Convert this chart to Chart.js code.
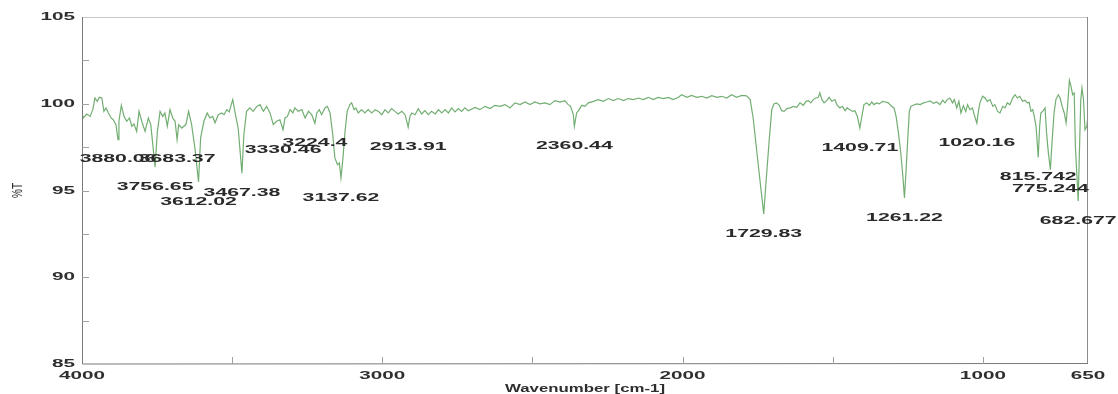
<!DOCTYPE html>
<html>
<head>
<meta charset="utf-8">
<title>IR spectrum</title>
<script src="https://cdn.jsdelivr.net/npm/chart.js@4/dist/chart.umd.min.js"></script>
<style>
  html, body { margin: 0; padding: 0; background: #ffffff; }
  #wrap { width: 1118px; height: 394px; position: relative; }
</style>
</head>
<body>
<div id="wrap"><canvas id="ir"></canvas></div>
<script>
// Wavenumber (cm-1) and transmittance (%T) of the recorded spectrum
const wavenumbers = [
  4000, 3996, 3984, 3973, 3964, 3957, 3949, 3942, 3934, 3927, 3920, 3912, 3903, 3896, 3887,
  3880.06, 3877, 3869, 3860, 3851, 3842, 3834, 3827, 3818, 3810, 3801, 3790, 3779, 3771,
  3756.65, 3749, 3740, 3731, 3724, 3716, 3707, 3698, 3690, 3683.37, 3678, 3668, 3654, 3645,
  3635, 3624, 3612.02, 3605, 3594, 3583, 3574, 3565, 3557, 3546, 3535, 3527, 3518, 3510,
  3498, 3491, 3480, 3467.38, 3461, 3452, 3441, 3430, 3418, 3407, 3396, 3385, 3374, 3363,
  3352, 3341, 3330.46, 3324, 3316, 3307, 3298, 3291, 3280, 3268, 3257, 3246, 3235, 3224.4,
  3218, 3210, 3202, 3191, 3183, 3174, 3165, 3158, 3149, 3143, 3137.62, 3132, 3124, 3117,
  3108, 3102, 3094, 3088, 3080, 3069, 3058, 3047, 3035, 3024, 3013, 3002, 2991, 2980, 2969,
  2958, 2947, 2935, 2924, 2913.91, 2908, 2902, 2891, 2880, 2869, 2858, 2847, 2836, 2824,
  2813, 2802, 2791, 2780, 2769, 2758, 2747, 2736, 2725, 2714, 2691, 2675, 2658, 2641, 2625,
  2608, 2591, 2575, 2558, 2541, 2525, 2508, 2492, 2475, 2458, 2442, 2425, 2408, 2392, 2381,
  2373, 2364, 2360.44, 2353, 2344, 2336, 2325, 2314, 2297, 2281, 2264, 2247, 2231, 2214,
  2197, 2181, 2164, 2147, 2131, 2114, 2098, 2081, 2064, 2048, 2031, 2014, 2003, 1986, 1970,
  1953, 1936, 1920, 1903, 1886, 1870, 1853, 1837, 1820, 1803, 1787, 1775, 1765, 1753, 1742,
  1729.83, 1722, 1711, 1703, 1696, 1687, 1678, 1670, 1662, 1653, 1642, 1631, 1620, 1609,
  1598, 1589, 1581, 1573, 1565, 1556, 1548, 1543, 1536, 1529, 1520, 1512, 1503, 1493, 1485,
  1476, 1468, 1459, 1452, 1443, 1434, 1426, 1418, 1409.71, 1404, 1396, 1387, 1378, 1370,
  1363, 1354, 1345, 1334, 1325, 1315, 1304, 1296, 1289, 1282, 1274, 1267, 1261.22, 1256,
  1250, 1245, 1240, 1232, 1220, 1209, 1198, 1187, 1176, 1165, 1154, 1143, 1134, 1126, 1119,
  1110, 1101, 1095, 1087, 1080, 1073, 1065, 1057, 1051, 1043, 1035, 1029, 1020.16, 1015,
  1010, 1001, 993, 985, 976, 967, 960, 951, 943, 934, 926, 919, 910, 901, 893, 885, 877,
  868, 860, 852, 846, 840, 834, 829, 823, 815.742, 811, 807, 801, 793, 788, 782, 775.244,
  770, 763, 757, 749, 743, 736, 729, 723, 718, 712, 708, 701, 696, 692, 682.677, 679, 674,
  670, 665, 660, 654, 650
];
const transmittance = [
  99.47, 99.18, 99.41, 99.27, 99.66, 100.33, 100.14, 100.37, 100.33, 99.56, 99.76, 99.47, 99.18, 99.08, 98.80,
  97.93, 98.99, 99.91, 99.27, 98.99, 99.18, 98.70, 98.84, 98.41, 99.56, 98.99, 98.41, 99.18, 98.80,
  96.35, 98.41, 99.56, 99.27, 99.47, 98.70, 99.66, 99.18, 98.99, 97.93, 98.80, 98.60, 98.80, 99.56,
  98.80, 97.45, 95.50, 98.03, 98.99, 99.47, 99.18, 99.27, 98.90, 99.37, 99.47, 99.37, 99.66, 99.53,
  100.24, 99.56, 98.60, 96.00, 98.22, 99.56, 99.76, 99.56, 99.85, 99.95, 99.56, 99.85, 99.47, 98.80,
  98.99, 99.08, 98.50, 99.18, 99.27, 99.66, 99.47, 99.76, 99.56, 99.66, 99.18, 99.56, 99.37, 98.88,
  99.47, 99.66, 99.37, 99.76, 99.85, 99.47, 98.22, 96.88, 96.49, 96.59, 95.73, 96.68, 98.41, 99.56,
  99.95, 100.05, 99.66, 99.76, 99.47, 99.66, 99.47, 99.66, 99.47, 99.66, 99.56, 99.37, 99.66, 99.47, 99.72,
  99.56, 99.41, 99.56, 99.37, 98.65, 99.27, 99.47, 99.37, 99.72, 99.41, 99.60, 99.37, 99.56, 99.41,
  99.66, 99.47, 99.66, 99.47, 99.76, 99.53, 99.72, 99.56, 99.76, 99.60, 99.79, 99.66, 99.85, 99.72, 99.91,
  99.85, 99.95, 99.76, 100.05, 99.95, 100.10, 99.95, 100.10, 99.99, 100.05, 99.95, 100.18, 100.10, 100.18, 99.95,
  99.85, 99.37, 98.70, 99.47, 99.66, 99.91, 99.85, 100.05, 100.14, 100.24, 100.14, 100.30, 100.18, 100.30,
  100.18, 100.30, 100.24, 100.33, 100.24, 100.37, 100.24, 100.37, 100.30, 100.37, 100.24, 100.37, 100.52, 100.37, 100.48,
  100.37, 100.43, 100.33, 100.47, 100.37, 100.43, 100.33, 100.52, 100.37, 100.48, 100.45, 100.24, 99.18, 97.26, 95.53,
  93.65, 95.53, 98.03, 99.66, 99.99, 100.05, 99.91, 99.60, 99.56, 99.72, 99.76, 99.85, 99.79, 100.05,
  99.91, 100.14, 100.18, 100.05, 100.24, 100.33, 100.37, 100.62, 100.24, 100.05, 100.18, 100.37, 100.14, 100.24, 99.91,
  99.76, 99.85, 99.60, 99.76, 99.66, 99.56, 99.60, 99.27, 98.60, 99.18, 99.95, 100.05, 99.91, 100.10,
  99.95, 100.05, 99.99, 100.14, 100.10, 100.05, 99.85, 99.76, 99.27, 98.41, 97.26, 95.92, 94.57, 96.11,
  98.03, 99.56, 99.85, 99.91, 99.99, 99.95, 100.05, 100.10, 100.16, 100.02, 100.10, 99.95, 100.20, 100.05, 100.24,
  100.33, 100.05, 100.24, 99.76, 100.14, 99.47, 99.89, 99.56, 99.95, 99.66, 99.76, 99.37, 98.88, 99.56,
  100.05, 100.43, 100.33, 100.14, 100.24, 99.85, 99.95, 99.56, 99.47, 99.85, 99.76, 100.05, 99.95, 100.33, 100.52, 100.33, 100.43,
  100.14, 100.20, 100.05, 100.08, 99.56, 99.66, 99.27, 98.70, 96.90, 98.70, 99.47, 99.56, 99.76, 98.32, 97.17, 96.20,
  97.74, 99.47, 100.24, 100.52, 100.33, 99.85, 99.47, 98.90, 99.85, 101.35, 101.10, 100.52, 100.62, 97.55, 94.40, 96.97, 100.24,
  100.91, 100.24, 98.50, 98.70, 99.27
];

// Peaks annotated under the trace
const peakWavenumbers = [
  3880.06, 3756.65, 3683.37, 3612.02, 3467.38, 3330.46, 3224.4, 3137.62, 2913.91,
  2360.44, 1729.83, 1409.71, 1261.22, 1020.16, 815.742, 775.244, 682.677
];

// Axis ticks
const xMajorTicks = [4000, 3000, 2000, 1000, 650];
const xMinorTicks = [3500, 2500, 1500];
const yMajorTicks = [85, 90, 95, 100, 105];
const yMinorTicks = [87.5, 92.5, 97.5, 102.5];

const xTitle = 'Wavenumber [cm-1]';
const yTitle = '%T';

const points = wavenumbers.map((w, i) => ({ x: w, y: transmittance[i] }));

// Text in this plot is drawn wide; sx widens it horizontally
function wideText(ctx, text, x, y, sx, align) {
  ctx.save();
  ctx.translate(x, y);
  ctx.scale(sx, 1);
  ctx.textAlign = align;
  ctx.fillText(text, 0, 0);
  ctx.restore();
}

const spectrumDecor = {
  id: 'spectrumDecor',
  afterDatasetsDraw(chart) {
    const ctx = chart.ctx;
    const a = chart.chartArea;
    const xs = chart.scales.x;
    const ys = chart.scales.y;

    ctx.save();
    // frame
    ctx.lineWidth = 1;
    ctx.strokeStyle = '#c8c8c8';
    ctx.beginPath();
    ctx.moveTo(a.left, a.top + 0.5);
    ctx.lineTo(a.right, a.top + 0.5);
    ctx.stroke();
    ctx.strokeStyle = '#8c8c8c';
    ctx.beginPath();
    ctx.moveTo(a.right - 0.5, a.top);
    ctx.lineTo(a.right - 0.5, a.bottom);
    ctx.stroke();
    ctx.strokeStyle = '#7a7a7a';
    ctx.beginPath();
    ctx.moveTo(a.left + 0.5, a.top);
    ctx.lineTo(a.left + 0.5, a.bottom);
    ctx.lineTo(a.right, a.bottom - 0.5);
    ctx.stroke();

    // inward tick marks
    ctx.strokeStyle = '#a0a0a0';
    ctx.beginPath();
    yMajorTicks.concat(yMinorTicks).forEach(v => {
      const py = Math.round(ys.getPixelForValue(v)) + 0.5;
      if (v === 85 || v === 105) return;
      ctx.moveTo(a.left, py);
      ctx.lineTo(a.left + 7, py);
    });
    xMajorTicks.concat(xMinorTicks).forEach(v => {
      if (v === 4000 || v === 650) return;
      const px = Math.round(xs.getPixelForValue(v)) + 0.5;
      ctx.moveTo(px, a.bottom);
      ctx.lineTo(px, a.bottom - 7);
    });
    ctx.stroke();

    // tick labels
    ctx.fillStyle = '#2e2e2e';
    ctx.font = 'bold 11.5px "Liberation Sans", Arial, sans-serif';
    ctx.textBaseline = 'middle';
    yMajorTicks.forEach(v => {
      wideText(ctx, String(v), a.left - 7, ys.getPixelForValue(v), 1.8, 'right');
    });
    xMajorTicks.forEach(v => {
      wideText(ctx, String(v), xs.getPixelForValue(v), a.bottom + 12, 1.8, 'center');
    });

    // axis titles
    ctx.font = 'bold 10.5px "Liberation Sans", Arial, sans-serif';
    wideText(ctx, xTitle, (a.left + a.right) / 2, a.bottom + 25, 1.6, 'center');
    ctx.save();
    ctx.translate(18, ys.getPixelForValue(95));
    ctx.rotate(-Math.PI / 2);
    ctx.scale(1, 1.4);
    ctx.font = '10px "Liberation Sans", Arial, sans-serif';
    ctx.textAlign = 'center';
    ctx.fillText(yTitle, 0, 0);
    ctx.restore();

    // peak annotations
    ctx.font = 'bold 11.8px "Liberation Sans", Arial, sans-serif';
    ctx.fillStyle = '#2a2a2a';
    peakWavenumbers.forEach(w => {
      const i = wavenumbers.indexOf(w);
      const px = xs.getPixelForValue(w);
      const py = ys.getPixelForValue(transmittance[i]);
      wideText(ctx, String(w), px, py + 19.5, 1.8, 'center');
    });
    ctx.restore();
  }
};

new Chart(document.getElementById('ir'), {
  type: 'line',
  data: {
    datasets: [{
      data: points,
      borderColor: '#72ae72',
      borderWidth: 1.2,
      pointRadius: 0,
      tension: 0,
      fill: false
    }]
  },
  options: {
    responsive: true,
    maintainAspectRatio: false,
    animation: false,
    layout: { padding: { left: 82, top: 17, right: 30, bottom: 30 } },
    plugins: { legend: { display: false }, tooltip: { enabled: false } },
    scales: {
      x: { type: 'linear', reverse: true, min: 650, max: 4000, display: false },
      y: { type: 'linear', min: 85, max: 105, display: false }
    }
  },
  plugins: [spectrumDecor]
});
</script>
</body>
</html>
